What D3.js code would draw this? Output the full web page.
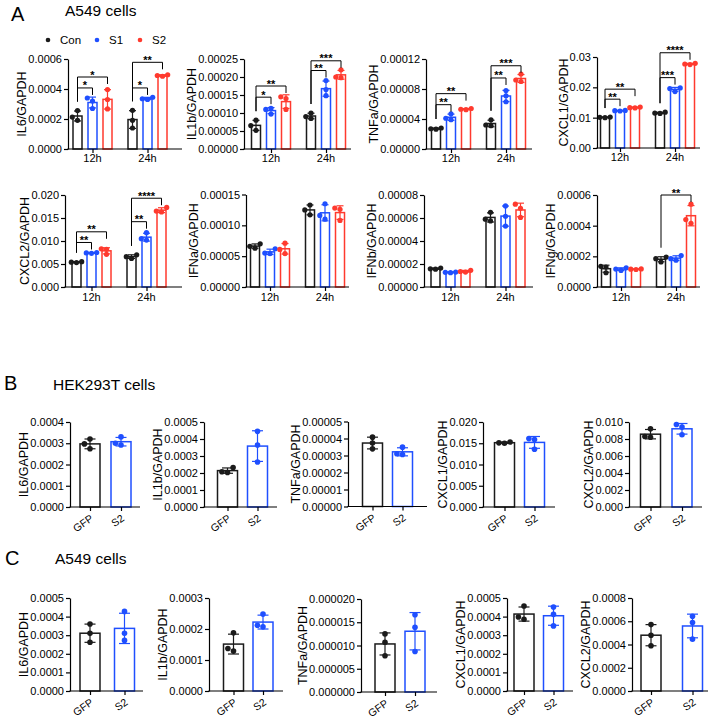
<!DOCTYPE html>
<html><head><meta charset="utf-8">
<script src="https://cdn.jsdelivr.net/npm/d3@7"></script>
<style>
body{margin:0;background:#fff}
</style></head><body>
<svg id="fig" width="714" height="720" style="background:#fff"></svg>
<script>
// ---------------- DATA ----------------
const groupsA = ["12h", "24h"];
const seriesA = ["Con", "S1", "S2"];
const groupsBC = ["GFP", "S2"];

// Panel A, row 1 (each series: [12h points], [24h points])
const aIL6Ticks = ["0.0000", "0.0002", "0.0004", "0.0006"];
const aIL6Con = [[0.000256, 0.000213, 0.000191], [0.000258, 0.000191, 0.00014]];
const aIL6S1  = [[0.00034, 0.00032, 0.00027], [0.000345, 0.00033, 0.000335]];
const aIL6S2  = [[0.000396, 0.00033, 0.000267], [0.000485, 0.00049, 0.000495]];
const aIL6Sig = [["12h", "S1", 0.000407, "*"], ["12h", "S2", 0.00048, "*"], ["24h", "S1", 0.000407, "*"], ["24h", "S2", 0.000578, "**"]];

const aIL1bTicks = ["0.00000", "0.00005", "0.00010", "0.00015", "0.00020", "0.00025"];
const aIL1bCon = [[0.00008, 0.000065, 0.000052], [0.0001, 0.00009, 0.000085]];
const aIL1bS1  = [[0.000113, 0.00011, 0.000097], [0.00019, 0.000165, 0.000148]];
const aIL1bS2  = [[0.000145, 0.00014, 0.00011], [0.00022, 0.0002, 0.000198]];
const aIL1bSig = [["12h", "S1", 0.000144, "*"], ["12h", "S2", 0.000175, "**"], ["24h", "S1", 0.000218, "**"], ["24h", "S2", 0.000245, "***"]];

const aTNFaTicks = ["0.00000", "0.00004", "0.00008", "0.00012"];
const aTNFaCon = [[0.000027, 0.0000265, 0.000028], [0.000039, 0.000032, 0.000031]];
const aTNFaS1  = [[0.000047, 0.000041, 0.000039], [0.000078, 0.000071, 0.000063]];
const aTNFaS2  = [[0.000054, 0.000053, 0.0000525], [0.0001, 0.000092, 0.00009]];
const aTNFaSig = [["12h", "S1", 0.0000591, "**"], ["12h", "S2", 0.0000738, "**"], ["24h", "S1", 0.0000947, "**"], ["24h", "S2", 0.000111, "***"]];

const aCXCL1Ticks = ["0.00", "0.01", "0.02", "0.03"];
const aCXCL1Con = [[0.0101, 0.0102, 0.0100], [0.0118, 0.0115, 0.0114]];
const aCXCL1S1  = [[0.0122, 0.0124, 0.0123], [0.0198, 0.0196, 0.0186]];
const aCXCL1S2  = [[0.0135, 0.0132, 0.0133], [0.0277, 0.0279, 0.0275]];
const aCXCL1Sig = [["12h", "S1", 0.0161, "**"], ["12h", "S2", 0.0194, "**"], ["24h", "S1", 0.0232, "***"], ["24h", "S2", 0.0314, "****"]];

// Panel A, row 2
const aCXCL2Ticks = ["0.000", "0.005", "0.010", "0.015", "0.020"];
const aCXCL2Con = [[0.0054, 0.0055, 0.0053], [0.0070, 0.0066, 0.0062]];
const aCXCL2S1  = [[0.0074, 0.0075, 0.0073], [0.0118, 0.0105, 0.0102]];
const aCXCL2S2  = [[0.0083, 0.0082, 0.0071], [0.0173, 0.0165, 0.0163]];
const aCXCL2Sig = [["12h", "S1", 0.00968, "**"], ["12h", "S2", 0.012, "**"], ["24h", "S1", 0.0142, "**"], ["24h", "S2", 0.0193, "****"]];

const aIFNaTicks = ["0.00000", "0.00005", "0.00010", "0.00015"];
const aIFNaCon = [[0.00007, 0.000066, 0.000063], [0.000133, 0.000125, 0.000117]];
const aIFNaS1  = [[0.000062, 0.000055, 0.000054], [0.000135, 0.000116, 0.00011]];
const aIFNaS2  = [[0.000071, 0.000061, 0.000054], [0.000128, 0.000126, 0.000108]];
const aIFNaSig = [];

const aIFNbTicks = ["0.00000", "0.00002", "0.00004", "0.00006", "0.00008"];
const aIFNbCon = [[0.0000165, 0.0000158, 0.0000155], [0.000065, 0.000059, 0.0000575]];
const aIFNbS1  = [[0.000013, 0.0000125, 0.0000128], [0.0000705, 0.0000615, 0.000053]];
const aIFNbS2  = [[0.0000145, 0.0000135, 0.000013], [0.000072, 0.0000685, 0.0000605]];
const aIFNbSig = [];

const aIFNgTicks = ["0.0000", "0.0002", "0.0004", "0.0006"];
const aIFNgCon = [[0.000135, 0.00013, 0.000093], [0.000195, 0.000185, 0.000163]];
const aIFNgS1  = [[0.000125, 0.000117, 0.000108], [0.000205, 0.000185, 0.000175]];
const aIFNgS2  = [[0.000118, 0.000116, 0.000114], [0.00054, 0.00044, 0.000415]];
const aIFNgSig = [["24h", "S2", 0.0006, "**"]];

// Panel B (HEK293T): [GFP points], [S2 points]
const bIL6Ticks = ["0.0000", "0.0001", "0.0002", "0.0003", "0.0004"];
const bIL6 = [[0.00032, 0.000297, 0.000274], [0.00033, 0.0003, 0.000292]];
const bIL1bTicks = ["0.0000", "0.0001", "0.0002", "0.0003", "0.0004", "0.0005"];
const bIL1b = [[0.000232, 0.000207, 0.000203], [0.000445, 0.000365, 0.000265]];
const bTNFaTicks = ["0.00000", "0.00001", "0.00002", "0.00003", "0.00004", "0.00005"];
const bTNFa = [[0.0000408, 0.0000373, 0.0000339], [0.0000349, 0.000031, 0.0000306]];
const bCXCL1Ticks = ["0.000", "0.005", "0.010", "0.015", "0.020"];
const bCXCL1 = [[0.0150, 0.0153, 0.0151], [0.0161, 0.0159, 0.0136]];
const bCXCL2Ticks = ["0.000", "0.002", "0.004", "0.006", "0.008", "0.010"];
const bCXCL2 = [[0.0092, 0.0083, 0.0082], [0.0097, 0.0094, 0.0085]];

// Panel C (A549): [GFP points], [S2 points]
const cIL6Ticks = ["0.0000", "0.0001", "0.0002", "0.0003", "0.0004", "0.0005"];
const cIL6 = [[0.00036, 0.00031, 0.000262], [0.000428, 0.00031, 0.000272]];
const cIL1bTicks = ["0.0000", "0.0001", "0.0002", "0.0003"];
const cIL1b = [[0.000188, 0.000137, 0.000129], [0.000248, 0.000212, 0.000207]];
const cTNFaTicks = ["0.000000", "0.000005", "0.000010", "0.000015", "0.000020"];
const cTNFa = [[0.0000125, 0.0000107, 0.0000078], [0.0000166, 0.0000139, 0.0000087]];
const cCXCL1Ticks = ["0.0000", "0.0001", "0.0002", "0.0003", "0.0004", "0.0005"];
const cCXCL1 = [[0.000457, 0.000398, 0.000386], [0.000452, 0.000412, 0.00035]];
const cCXCL2Ticks = ["0.0000", "0.0002", "0.0004", "0.0006", "0.0008"];
const cCXCL2 = [[0.000571, 0.00048, 0.000389], [0.000643, 0.000589, 0.000446]];

// ---------------- STYLE / LAYOUT ----------------
const FONT = '"Liberation Sans", Arial, Helvetica, sans-serif';
const seriesColors = ["#1b1b1b", "#1f4fff", "#ff3a2e"];
const groupColorsBC = ["#1b1b1b", "#1f4fff"];

const specsA = [
  {title: "IL6/GAPDH", ticks: aIL6Ticks, vals: {Con: aIL6Con, S1: aIL6S1, S2: aIL6S2}, sig: aIL6Sig},
  {title: "IL1b/GAPDH", ticks: aIL1bTicks, vals: {Con: aIL1bCon, S1: aIL1bS1, S2: aIL1bS2}, sig: aIL1bSig},
  {title: "TNFa/GAPDH", ticks: aTNFaTicks, vals: {Con: aTNFaCon, S1: aTNFaS1, S2: aTNFaS2}, sig: aTNFaSig},
  {title: "CXCL1/GAPDH", ticks: aCXCL1Ticks, vals: {Con: aCXCL1Con, S1: aCXCL1S1, S2: aCXCL1S2}, sig: aCXCL1Sig},
  {title: "CXCL2/GAPDH", ticks: aCXCL2Ticks, vals: {Con: aCXCL2Con, S1: aCXCL2S1, S2: aCXCL2S2}, sig: aCXCL2Sig},
  {title: "IFNa/GAPDH", ticks: aIFNaTicks, vals: {Con: aIFNaCon, S1: aIFNaS1, S2: aIFNaS2}, sig: aIFNaSig},
  {title: "IFNb/GAPDH", ticks: aIFNbTicks, vals: {Con: aIFNbCon, S1: aIFNbS1, S2: aIFNbS2}, sig: aIFNbSig},
  {title: "IFNg/GAPDH", ticks: aIFNgTicks, vals: {Con: aIFNgCon, S1: aIFNgS1, S2: aIFNgS2}, sig: aIFNgSig}
];
const layoutA = [
  {ax: 68, end: 182, top: 59, bot: 149, g: [92.5, 147.5]},
  {ax: 244, end: 351, top: 59, bot: 149, g: [271, 326]},
  {ax: 426, end: 532, top: 59, bot: 149, g: [451, 506]},
  {ax: 597, end: 700, top: 57, bot: 148, g: [620, 675]},
  {ax: 65, end: 182, top: 195, bot: 287, g: [91.5, 146.5]},
  {ax: 246, end: 349, top: 194.5, bot: 287, g: [270, 325]},
  {ax: 424, end: 533, top: 195, bot: 287, g: [450.5, 505.5]},
  {ax: 597, end: 700, top: 195, bot: 287, g: [621, 676]}
];

const specsB = [
  {title: "IL6/GAPDH", ticks: bIL6Ticks, vals: bIL6},
  {title: "IL1b/GAPDH", ticks: bIL1bTicks, vals: bIL1b},
  {title: "TNFa/GAPDH", ticks: bTNFaTicks, vals: bTNFa},
  {title: "CXCL1/GAPDH", ticks: bCXCL1Ticks, vals: bCXCL1},
  {title: "CXCL2/GAPDH", ticks: bCXCL2Ticks, vals: bCXCL2}
];
const layoutB = [
  {ax: 70, end: 140, top: 422, bot: 507, g: [90, 121]},
  {ax: 204, end: 277, top: 422, bot: 507, g: [227.5, 257.5]},
  {ax: 348, end: 427, top: 421.5, bot: 506.5, g: [372.5, 402.5]},
  {ax: 483, end: 555, top: 422, bot: 507, g: [504.5, 534.5]},
  {ax: 629, end: 702, top: 422, bot: 507, g: [650.5, 682]}
];

const specsC = [
  {title: "IL6/GAPDH", ticks: cIL6Ticks, vals: cIL6},
  {title: "IL1b/GAPDH", ticks: cIL1bTicks, vals: cIL1b},
  {title: "TNFa/GAPDH", ticks: cTNFaTicks, vals: cTNFa},
  {title: "CXCL1/GAPDH", ticks: cCXCL1Ticks, vals: cCXCL1},
  {title: "CXCL2/GAPDH", ticks: cCXCL2Ticks, vals: cCXCL2}
];
const layoutC = [
  {ax: 70, end: 143, top: 598, bot: 691, g: [90, 124.5]},
  {ax: 209, end: 283, top: 598, bot: 691, g: [233.5, 263]},
  {ax: 361, end: 437, top: 599, bot: 692, g: [385, 415]},
  {ax: 507, end: 573, top: 598, bot: 691, g: [524, 553.5]},
  {ax: 632, end: 708, top: 598, bot: 691, g: [651, 692.5]}
];

// ---------------- DRAW ----------------
const svg = d3.select("#fig");

function swarm(ys, r) {
  const order = ys.map((v, i) => i).sort((a, b) => ys[b] - ys[a]);
  const placed = [], dx = ys.map(() => 0);
  const cands = [0, -1, 1, -2, 2];
  order.forEach(i => {
    for (const c of cands) {
      const x = c * 2 * r;
      if (placed.every(p => Math.hypot(p.x - x, p.y - ys[i]) >= 2 * r - 0.2)) {
        dx[i] = x; placed.push({x, y: ys[i]}); break;
      }
    }
  });
  return dx;
}

function drawChart(spec, L, o) {
  const g = svg.append("g");
  const tv = spec.ticks.map(Number);
  const y = d3.scaleLinear().domain([0, d3.max(tv)]).range([L.bot, L.top]);
  const gx = d3.scalePoint().domain(o.groups).range(L.g);
  const sx = d3.scalePoint().domain(o.series).range(o.sub);

  const bars = [];
  o.groups.forEach((gr, gi) => o.series.forEach((s, si) => {
    const pts = o.getPts(spec, gi, s);
    bars.push({gr, s, pts, mean: d3.mean(pts), sd: d3.deviation(pts),
      color: o.color(gi, si), cx: gx(gr) + sx(s)});
  }));

  // bars
  g.selectAll("rect.bar").data(bars).join("rect")
    .attr("x", d => d.cx - o.bw / 2).attr("width", o.bw)
    .attr("y", d => y(d.mean)).attr("height", d => y(0) - y(d.mean))
    .attr("fill", "#fff").attr("stroke", d => d.color).attr("stroke-width", 1.5);

  // error bars (mean ± SD)
  bars.forEach(d => {
    const e = g.append("g").attr("stroke-width", 1.2);
    const y1 = y(d.mean - d.sd), y2 = y(d.mean + d.sd);
    e.append("line").attr("x1", d.cx).attr("x2", d.cx).attr("y1", y1).attr("y2", y2).attr("stroke", d.color);
    [y1, y2].forEach(yy => e.append("line").attr("x1", d.cx - o.cw / 2).attr("x2", d.cx + o.cw / 2)
      .attr("y1", yy).attr("y2", yy).attr("stroke", d.color));
  });

  // points
  bars.forEach(d => {
    const ys = d.pts.map(v => y(v));
    const dx = swarm(ys, o.r);
    g.selectAll(null).data(d.pts).join("circle")
      .attr("cx", (v, i) => d.cx + dx[i]).attr("cy", v => y(v)).attr("r", o.r)
      .attr("fill", d.color);
  });

  // y axis
  const ya = g.append("g").attr("transform", `translate(${L.ax},0)`)
    .call(d3.axisLeft(y).tickValues(tv).tickFormat(v => spec.ticks[tv.indexOf(v)])
      .tickSize(4).tickPadding(2).tickSizeOuter(0));
  ya.attr("font-family", FONT).attr("font-size", o.tickFont);
  ya.selectAll("line,path").attr("stroke", "#000").attr("stroke-width", 1.2);
  ya.selectAll("text").attr("fill", "#000");

  // x axis
  const xa = g.append("g").attr("transform", `translate(0,${L.bot})`)
    .call(d3.axisBottom(gx).tickSize(4).tickSizeOuter(0).tickFormat(""));
  xa.select(".domain").remove();
  xa.selectAll("line").attr("stroke", "#000").attr("stroke-width", 1.2);
  g.append("line").attr("x1", L.ax - 0.6).attr("x2", L.end).attr("y1", L.bot).attr("y2", L.bot)
    .attr("stroke", "#000").attr("stroke-width", 1.2);

  // x labels
  if (o.rotate) {
    g.selectAll("text.xl").data(o.groups).join("text")
      .attr("transform", d => `translate(${gx(d) + 4},${L.bot + 13}) rotate(-35)`)
      .attr("text-anchor", "end").attr("font-family", FONT).attr("font-size", o.labFont).text(d => d);
  } else {
    g.selectAll("text.xl").data(o.groups).join("text")
      .attr("x", d => gx(d)).attr("y", L.bot + o.labDy)
      .attr("text-anchor", "middle").attr("font-family", FONT).attr("font-size", o.labFont).text(d => d);
  }

  // y title
  let maxW = 0;
  ya.selectAll("text").each(function () { maxW = Math.max(maxW, this.getComputedTextLength()); });
  const tx = L.ax - 6 - maxW - 2;
  g.append("text").attr("transform", `translate(${tx},${(L.top + L.bot) / 2}) rotate(-90)`)
    .attr("text-anchor", "middle").attr("font-family", FONT).attr("font-size", o.titleFont)
    .text(spec.title);

  // significance brackets
  (spec.sig || []).forEach(([gr, target, val, lab]) => {
    const con = bars.find(b => b.gr === gr && b.s === "Con");
    const tg = bars.find(b => b.gr === gr && b.s === target);
    const conTop = Math.max(d3.max(con.pts), con.mean + con.sd);
    const yl = y(val);
    const yLeft = y(conTop) - 9;
    const yRight = yl + 7;
    g.append("path")
      .attr("d", `M${con.cx},${yLeft}V${yl}H${tg.cx}V${yRight}`)
      .attr("fill", "none").attr("stroke", "#000").attr("stroke-width", 1);
    g.append("text").attr("x", (con.cx + tg.cx) / 2).attr("y", yl + 1.5)
      .attr("text-anchor", "middle").attr("font-family", FONT).attr("font-size", 11)
      .attr("font-weight", "bold").text(lab);
  });
}

const optsA = {groups: groupsA, series: seriesA, sub: [-15, 15], bw: 9, cw: 7, r: 2.6,
  tickFont: 11, labFont: 11, titleFont: 12.5, labDy: 12.5, rotate: false,
  getPts: (spec, gi, s) => spec.vals[s][gi], color: (gi, si) => seriesColors[si]};
const optsBC = {groups: groupsBC, series: ["all"], sub: [0, 0], bw: 20, cw: 11, r: 2.8,
  tickFont: 11, labFont: 10.5, titleFont: 12.5, rotate: true,
  getPts: (spec, gi) => spec.vals[gi], color: (gi) => groupColorsBC[gi]};

specsA.forEach((s, i) => drawChart(s, layoutA[i], Object.assign({}, optsA, {labDy: i < 4 ? 12.5 : 13.5})));
specsB.forEach((s, i) => drawChart(s, layoutB[i], optsBC));
specsC.forEach((s, i) => drawChart(s, layoutC[i], optsBC));

// panel letters and titles
const letters = [["A", 11, 21], ["B", 4, 390], ["C", 5, 565]];
letters.forEach(([t, x, yy]) => svg.append("text").attr("x", x).attr("y", yy)
  .attr("font-family", FONT).attr("font-size", 20).text(t));
const panelTitles = [["A549 cells", 65, 16], ["HEK293T cells", 53, 390], ["A549 cells", 55, 564]];
panelTitles.forEach(([t, x, yy]) => svg.append("text").attr("x", x).attr("y", yy)
  .attr("font-family", FONT).attr("font-size", 15.5).text(t));

// legend for panel A
const legX = [48, 97, 140];
seriesA.forEach((s, i) => {
  svg.append("circle").attr("cx", legX[i]).attr("cy", 40).attr("r", 2.3).attr("fill", seriesColors[i]);
  svg.append("text").attr("x", legX[i] + 12).attr("y", 44).attr("font-family", FONT)
    .attr("font-size", 11.5).text(s);
});
</script>
</body></html>
